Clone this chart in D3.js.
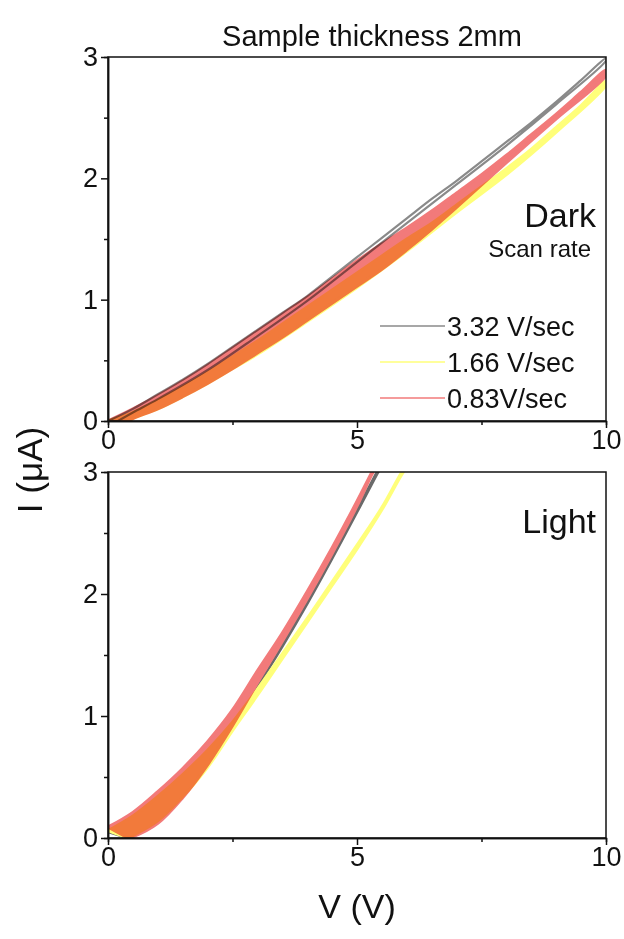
<!DOCTYPE html>
<html>
<head>
<meta charset="utf-8">
<script src="https://cdn.jsdelivr.net/npm/d3@7"></script>
<style>
  body { margin: 0; background: #fff; }
  text { font-family: "Liberation Sans", Arial, sans-serif; fill: #111; }
</style>
</head>
<body>
<svg id="chart" width="624" height="939"></svg>
<script>
// tick values and labels
const xMajor = [0, 5, 10];
const xMinor = [2.5, 7.5];
const yMajor = [0, 1, 2, 3];
const yMinor = [0.5, 1.5, 2.5];

// scan rates (legend order) and their colours
const scanRates = ["3.32 V/sec", "1.66 V/sec", "0.83V/sec"];
const rateColors = ["#8a8a8a", "#ffff7a", "#f27a7a"];

// Dark: each loop = forward sweep [V, I] then return sweep
const darkGrayUp = [[0,0],[0.5,0.1],[1,0.22],[1.5,0.34],[2,0.47],[2.5,0.61],[3,0.75],[3.5,0.89],[4,1.03],[4.5,1.19],[5,1.35],[5.5,1.51],[6,1.67],[6.5,1.83],[7,1.98],[7.5,2.14],[8,2.3],[8.5,2.46],[9,2.63],[9.5,2.81],[10,2.99]];
const darkGrayDown = [[10,2.97],[9,2.61],[8,2.27],[7,1.95],[6,1.63],[5,1.31],[4,0.99],[3,0.7],[2,0.42],[1,0.18],[0.5,0.07],[0.2,0]];
const darkYellowUp = [[0,0],[0.5,0.07],[1,0.17],[1.5,0.28],[2,0.4],[2.5,0.53],[3,0.66],[3.5,0.8],[4,0.94],[4.5,1.08],[5,1.22],[5.5,1.36],[6,1.5],[6.5,1.63],[7,1.78],[7.5,1.93],[8,2.08],[8.5,2.24],[9,2.42],[9.5,2.6],[10,2.8]];
const darkYellowDown = [[10,2.77],[9,2.38],[8,2.03],[7,1.72],[6,1.4],[5,1.1],[4,0.82],[3,0.55],[2.5,0.43],[2,0.31],[1.5,0.2],[1,0.1],[0.5,0.02],[0.45,0]];
const darkPinkUp = [[0,0],[0.5,0.1],[1,0.21],[1.5,0.33],[2,0.46],[2.5,0.6],[3,0.74],[3.5,0.88],[4,1.02],[4.5,1.17],[5,1.32],[5.5,1.46],[6,1.59],[6.5,1.73],[7,1.88],[7.5,2.03],[8,2.19],[8.5,2.36],[9,2.53],[9.5,2.71],[10,2.89]];
const darkPinkDown = [[10,2.85],[9,2.49],[8,2.13],[7,1.76],[6.5,1.58],[6,1.41],[5.5,1.25],[5,1.11],[4.5,0.97],[4,0.83],[3.5,0.69],[3,0.56],[2.5,0.43],[2,0.31],[1.5,0.2],[1,0.1],[0.5,0.02],[0.42,0]];

// Light
const lightGrayUp = [[0,0.05],[0.5,0.17],[1,0.33],[1.5,0.51],[2,0.73],[2.5,0.98],[3,1.29],[3.5,1.61],[4,1.95],[4.5,2.31],[5,2.69],[5.4,3.0],[5.6,3.15]];
const lightGrayDown = [[5.6,3.13],[5.4,2.98],[5,2.67],[4.5,2.29],[4,1.92],[3.5,1.57],[3,1.24],[2.5,0.91],[2,0.6],[1.5,0.34],[1,0.14],[0.5,0.02],[0.4,0]];
const lightYellowUp = [[0,0.06],[0.5,0.18],[1,0.34],[1.5,0.52],[2,0.72],[2.5,0.95],[3,1.22],[3.5,1.51],[4,1.8],[4.5,2.1],[5,2.4],[5.5,2.71],[5.9,3.0],[6.1,3.12]];
const lightYellowDown = [[6.1,3.1],[5.9,2.98],[5.5,2.69],[5,2.37],[4.5,2.07],[4,1.77],[3.5,1.47],[3,1.17],[2.5,0.88],[2,0.58],[1.5,0.34],[1,0.14],[0.5,0.02],[0.4,0]];
const lightPinkUp = [[0,0.09],[0.5,0.21],[1,0.38],[1.5,0.57],[2,0.79],[2.5,1.05],[3,1.37],[3.5,1.68],[4,2.02],[4.5,2.38],[5,2.76],[5.3,3.0],[5.5,3.15]];
const lightPinkDown = [[5.5,3.13],[5.3,2.98],[5,2.72],[4.5,2.33],[4,1.96],[3.5,1.61],[3,1.27],[2.5,0.92],[2,0.6],[1.5,0.33],[1,0.12],[0.5,0.01],[0.4,0]];

const svg = d3.select("#chart");
const x = d3.scaleLinear().domain([0, 10]).range([108, 606]);

function drawLoops(sel, loops, line) {
  sel.selectAll("path.loop").data(loops).join("path")
    .attr("class", "loop")
    .attr("d", d => line(d.up.concat(d.down)) + "Z")
    .attr("fill", d => d.fill ? d.color : "none")
    .attr("stroke", d => d.color)
    .attr("stroke-width", d => d.width)
    .attr("stroke-linejoin", "round")
    .style("mix-blend-mode", "multiply");
}

function drawPanel(id, y, loops, grayLoop, grayUnder, label, labelY) {
  const g = svg.append("g");
  const [y0, y1] = y.range();

  g.append("clipPath").attr("id", "clip-" + id)
    .append("rect").attr("x", x(0)).attr("y", y1).attr("width", x(10) - x(0)).attr("height", y0 - y1);

  const line = d3.line().x(d => x(d[0])).y(d => y(d[1])).curve(d3.curveCatmullRom);
  const plot = g.append("g").attr("clip-path", "url(#clip-" + id + ")");
  const under = plot.append("g");
  const bands = plot.append("g").style("isolation", "isolate");
  const over = plot.append("g");
  drawLoops(bands, loops, line);
  drawLoops(grayUnder ? under : over, [grayLoop], line);

  // frame (top and right)
  g.append("rect").attr("x", x(0)).attr("y", y1).attr("width", x(10) - x(0)).attr("height", y0 - y1)
    .attr("fill", "none").attr("stroke", "#111").attr("stroke-width", 1.5);

  g.append("g").attr("transform", `translate(0,${y0})`)
    .call(d3.axisBottom(x).tickValues(xMajor).tickSize(7).tickSizeOuter(0).tickPadding(2));
  g.append("g").attr("transform", `translate(0,${y0})`)
    .call(d3.axisBottom(x).tickValues(xMinor).tickSize(4).tickFormat(""));
  g.append("g").attr("transform", `translate(${x(0)},0)`)
    .call(d3.axisLeft(y).tickValues(yMajor).tickSize(7).tickSizeOuter(0).tickPadding(3).tickFormat(d3.format("d")));
  g.append("g").attr("transform", `translate(${x(0)},0)`)
    .call(d3.axisLeft(y).tickValues(yMinor).tickSize(4).tickFormat(""));
  g.selectAll(".domain").attr("stroke", "#111").attr("stroke-width", 1.5);
  g.selectAll(".tick line").attr("stroke", "#111").attr("stroke-width", 1.5);
  g.selectAll(".tick text").attr("font-size", 27).attr("font-family", "Liberation Sans, Arial, sans-serif").attr("fill", "#111");

  g.append("text").attr("x", 596).attr("y", labelY).attr("text-anchor", "end")
    .attr("font-size", 34).text(label);
}

const yDark = d3.scaleLinear().domain([0, 3]).range([421, 57]);
const yLight = d3.scaleLinear().domain([0, 3]).range([838, 472]);

drawPanel("dark", yDark, [
  { up: darkYellowUp, down: darkYellowDown, color: rateColors[1], width: 3, fill: true },
  { up: darkPinkUp, down: darkPinkDown, color: rateColors[2], width: 3, fill: true }
], { up: darkGrayUp, down: darkGrayDown, color: rateColors[0], width: 2.2, fill: false }, false, "Dark", 227);

drawPanel("light", yLight, [
  { up: lightYellowUp, down: lightYellowDown, color: rateColors[1], width: 3, fill: true },
  { up: lightPinkUp, down: lightPinkDown, color: rateColors[2], width: 3, fill: true }
], { up: lightGrayUp, down: lightGrayDown, color: "#6a6a6a", width: 2.6, fill: false }, true, "Light", 533);

// legend
svg.append("text").attr("x", 591).attr("y", 257).attr("text-anchor", "end")
  .attr("font-size", 24).text("Scan rate");
const leg = svg.append("g").selectAll("g").data(scanRates).join("g")
  .attr("transform", (d, i) => `translate(0,${326 + i * 36})`);
leg.append("line").attr("x1", 380).attr("x2", 445).attr("y1", 0).attr("y2", 0)
  .attr("stroke", (d, i) => rateColors[i]).attr("stroke-width", 1.6);
leg.append("text").attr("x", 447).attr("y", 10).attr("font-size", 27).text(d => d);

// titles
svg.append("text").attr("x", 372).attr("y", 46).attr("text-anchor", "middle")
  .attr("font-size", 29).text("Sample thickness 2mm");
svg.append("text").attr("x", 357).attr("y", 918).attr("text-anchor", "middle")
  .attr("font-size", 34).text("V (V)");
svg.append("text").attr("transform", "translate(42,470) rotate(-90)").attr("text-anchor", "middle")
  .attr("font-size", 35).text("I (\u03bcA)");
</script>
</body>
</html>
